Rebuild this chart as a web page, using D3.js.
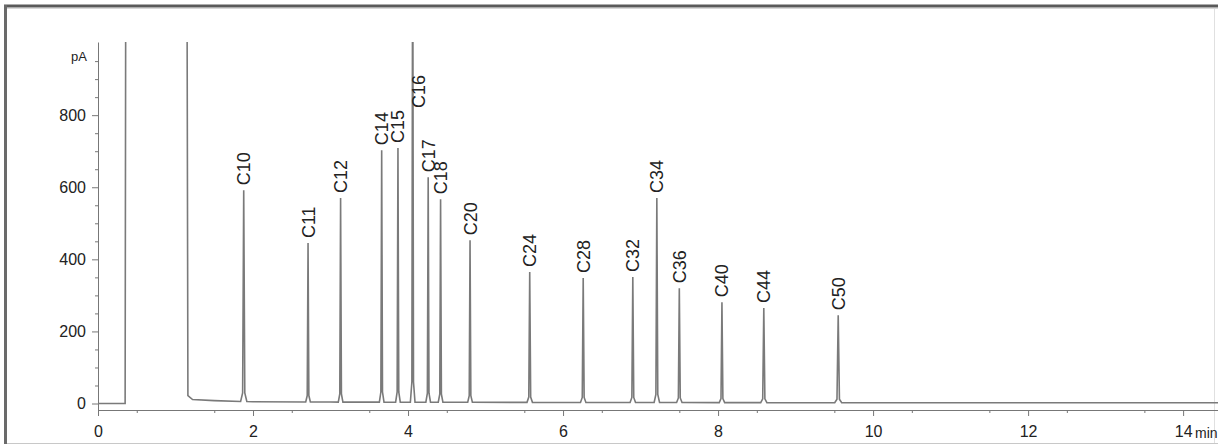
<!DOCTYPE html>
<html>
<head>
<meta charset="utf-8">
<script src="https://cdn.jsdelivr.net/npm/d3@7"></script>
<style>
  html, body { margin: 0; padding: 0; background: #fff; }
  svg { display: block; font-family: "Liberation Sans", Arial, sans-serif; }
</style>
</head>
<body>
<div id="chart"></div>
<script>
// peak table
const peakLabels = ['C10', 'C11', 'C12', 'C14', 'C15', 'C16', 'C17', 'C18', 'C20',
  'C24', 'C28', 'C32', 'C34', 'C36', 'C40', 'C44', 'C50'];
const retentionTimes = [1.88, 2.71, 3.13, 3.66, 3.87, 4.06, 4.26, 4.42, 4.80,
  5.57, 6.26, 6.90, 7.21, 7.50, 8.05, 8.59, 9.55];
const peakHeights = [592, 445, 570, 703, 709, 1400, 628, 567, 453,
  365, 348, 351, 570, 320, 281, 265, 245];
const peakWidths = [0.04, 0.03, 0.03, 0.03, 0.03, 0.03, 0.03, 0.03, 0.03,
  0.035, 0.035, 0.035, 0.035, 0.035, 0.035, 0.04, 0.045];

// baseline incl. solvent front (min, pA)
const baseTimes = [0, 0.35, 0.37, 1.13, 1.16, 1.22, 1.5, 2.0, 3.0, 6.0, 10.0, 14.5];
const baseValues = [0, 0, 3000, 3000, 22, 11, 8, 5, 4, 3, 2, 2];

const xTicks = [0, 2, 4, 6, 8, 10, 12, 14];
const yTicks = [0, 200, 400, 600, 800];

const draw = (el) => {
  const dimensions = { width: 1218, height: 444 };

  const svg = d3.select(el)
    .append('svg')
    .attr('width', dimensions.width)
    .attr('height', dimensions.height);

  const x = d3.scaleLinear().domain([0, 14.45]).range([98, 1218]);
  const y = d3.scaleLinear().domain([-18, 1003]).range([410, 42]);

  // frame round the plot window
  svg.append('line')
    .attr('x1', 4).attr('x2', 1218).attr('y1', 6).attr('y2', 6)
    .attr('stroke', '#5a5a5a').attr('stroke-width', 3);
  svg.append('line')
    .attr('x1', 4).attr('x2', 1218).attr('y1', 8.5).attr('y2', 8.5)
    .attr('stroke', '#d8d8d8').attr('stroke-width', 1);
  svg.append('line')
    .attr('x1', 5.5).attr('x2', 5.5).attr('y1', 5).attr('y2', 444)
    .attr('stroke', '#6a6a6a').attr('stroke-width', 3);
  svg.append('line')
    .attr('x1', 1214.5).attr('x2', 1214.5).attr('y1', 9).attr('y2', 444)
    .attr('stroke', '#e0e0e0').attr('stroke-width', 1);
  svg.append('line')
    .attr('x1', 7).attr('x2', 1218).attr('y1', 443.5).attr('y2', 443.5)
    .attr('stroke', '#c8c8c8').attr('stroke-width', 1);

  // axes
  const axisColor = '#777';

  svg.append('g')
    .attr('transform', `translate(0, ${y(-18)})`)
    .call(d3.axisBottom(x).tickValues(xTicks).tickSize(6).tickSizeOuter(0).tickPadding(10));
  svg.append('g')
    .attr('transform', `translate(0, ${y(-18)})`)
    .call(d3.axisBottom(x).tickValues(d3.range(0.5, 14.5, 1)).tickSize(3).tickFormat(''))
    .call(g => g.select('.domain').remove());

  svg.append('g')
    .attr('transform', `translate(${x(0)}, 0)`)
    .call(d3.axisLeft(y).tickValues(yTicks).tickSize(6).tickSizeOuter(0).tickPadding(6));
  svg.append('g')
    .attr('transform', `translate(${x(0)}, 0)`)
    .call(d3.axisLeft(y).tickValues(d3.range(50, 1001, 50).filter(v => v % 200 !== 0)).tickSize(3).tickFormat(''))
    .call(g => g.select('.domain').remove());

  svg.selectAll('.domain, .tick line').attr('stroke', axisColor);
  svg.selectAll('.tick text')
    .attr('fill', '#222')
    .style('font-family', '"Liberation Sans", Arial, sans-serif')
    .style('font-size', '16px');

  svg.append('text')
    .attr('x', 87).attr('y', 61)
    .attr('text-anchor', 'end')
    .attr('fill', '#222')
    .style('font-size', '13px')
    .text('pA');

  svg.append('text')
    .attr('x', 1195).attr('y', y(-18) + 27.5)
    .attr('fill', '#222')
    .style('font-size', '14px')
    .text('min');

  // trace
  svg.append('clipPath').attr('id', 'plot-clip')
    .append('rect')
    .attr('x', x(0)).attr('y', y(1003))
    .attr('width', 1218 - x(0)).attr('height', y(-18) - y(1003));

  const baseline = d3.scaleLinear().domain(baseTimes).range(baseValues);

  const points = baseTimes.map((t, i) => [t, baseValues[i]]);
  retentionTimes.forEach((rt, i) => {
    const w = peakWidths[i];
    const h = peakHeights[i];
    const b = baseline(rt);
    points.push([rt - w, b], [rt - w * 0.35, b + h * 0.04], [rt, h],
      [rt + w * 0.35, b + h * 0.04], [rt + w, b]);
  });
  points.sort((a, b) => a[0] - b[0]);

  svg.append('path')
    .datum(points)
    .attr('clip-path', 'url(#plot-clip)')
    .attr('fill', 'none')
    .attr('stroke', '#7a7a7a')
    .attr('stroke-width', 1.6)
    .attr('d', d3.line().x(d => x(d[0])).y(d => y(d[1])));

  // peak labels
  svg.append('g')
    .selectAll('text')
    .data(peakLabels)
    .join('text')
    .attr('transform', (d, i) => {
      const clipped = peakHeights[i] > 1000;
      const px = x(retentionTimes[i]) + (clipped ? 6 : 0);
      const py = clipped ? y(820) : y(peakHeights[i]) - 5;
      return `translate(${px + 6.5}, ${py}) rotate(-90)`;
    })
    .attr('fill', '#222')
    .style('font-size', '18px')
    .text(d => d);
};

draw('#chart');
</script>
</body>
</html>
